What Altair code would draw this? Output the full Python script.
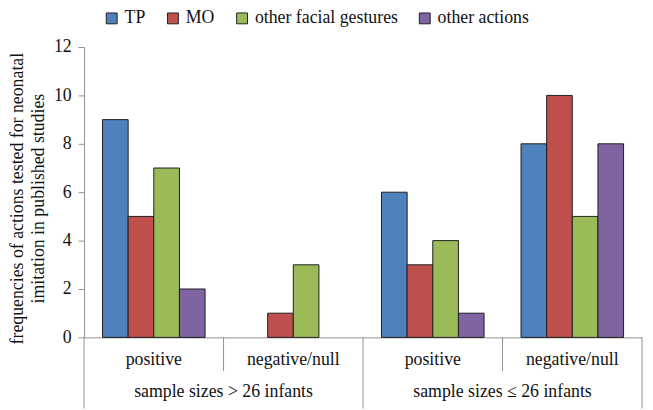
import altair as alt
import pandas as pd

groups = ["sample sizes > 26 infants", "sample sizes \u2264 26 infants"]
outcomes = ["positive", "negative/null"]
series = ["TP", "MO", "other facial gestures", "other actions"]
colors = ["#4F81BD", "#C0504D", "#9BBB59", "#8064A2"]

# values per (group, outcome), in series order
g1_positive = [9, 5, 7, 2]
g1_negative = [0, 1, 3, 0]
g2_positive = [6, 3, 4, 1]
g2_negative = [8, 10, 5, 8]

y_ticks = [0, 2, 4, 6, 8, 10, 12]
y_title = ["frequencies of actions tested for neonatal", "imitation in published studies"]

cells = [
    (groups[0], outcomes[0], g1_positive),
    (groups[0], outcomes[1], g1_negative),
    (groups[1], outcomes[0], g2_positive),
    (groups[1], outcomes[1], g2_negative),
]
conds = [f"{g}|{o}" for g, o, _ in cells]

rows = []
for g, o, vals in cells:
    for s, v in zip(series, vals):
        rows.append({"cond": f"{g}|{o}", "series": s, "value": v})
df = pd.DataFrame(rows)

sub_df = pd.DataFrame([{"cond": f"{g}|{o}", "label": o} for g, o, _ in cells])
grp_df = pd.DataFrame([{"cond": f"{g}|{outcomes[0]}", "label": g} for g in groups])
short_df = pd.DataFrame([{"cond": f"{g}|{outcomes[1]}"} for g in groups])
long_df = pd.DataFrame([{"cond": f"{g}|{outcomes[0]}"} for g in groups])
end_df = pd.DataFrame([{"cond": conds[-1]}])

FONT = "Liberation Serif"
GRAY = "#8f8f8f"

xscale = alt.Scale(domain=conds, paddingInner=0, paddingOuter=0)

bars = alt.Chart(df).transform_filter("datum.value > 0").mark_bar(
    stroke="#1e1e1e", strokeWidth=1
).encode(
    x=alt.X("cond:N", scale=xscale, sort=conds,
            axis=alt.Axis(labels=False, ticks=False, domain=True, domainColor=GRAY,
                          title=None, grid=False)),
    xOffset=alt.XOffset("series:N", sort=series,
                        scale=alt.Scale(domain=series, paddingInner=0, paddingOuter=0.72)),
    y=alt.Y("value:Q", scale=alt.Scale(domain=[0, 12], nice=False),
            axis=alt.Axis(values=y_ticks, grid=False, tickSize=6, tickColor=GRAY,
                          domainColor=GRAY, labelFont=FONT, labelFontSize=18,
                          labelColor="#111", labelPadding=7,
                          title=y_title, titleFont=FONT, titleFontSize=18,
                          titleFontWeight="normal", titleColor="#111",
                          titleAngle=-90, titleAlign="center", titleBaseline="middle",
                          titleLineHeight=21, titleX=-67, titleY=153)),
    color=alt.Color("series:N", sort=series,
                    scale=alt.Scale(domain=series, range=colors),
                    legend=alt.Legend(title=None, orient="none", direction="horizontal",
                                      legendX=19, legendY=-38, symbolType="square",
                                      symbolSize=121, symbolStrokeColor="#222",
                                      symbolStrokeWidth=1, labelFont=FONT,
                                      labelFontSize=18, labelColor="#111",
                                      columnPadding=18, labelOffset=4)),
)

sub_text = alt.Chart(sub_df).mark_text(
    font=FONT, fontSize=18, color="#111", baseline="middle"
).encode(
    x=alt.X("cond:N", scale=xscale, sort=conds),
    y=alt.value(317),
    text="label:N",
)

grp_text = alt.Chart(grp_df).mark_text(
    font=FONT, fontSize=18, color="#111", baseline="middle"
).encode(
    x=alt.X("cond:N", scale=xscale, sort=conds, bandPosition=1),
    y=alt.value(349),
    text="label:N",
)

short_rules = alt.Chart(short_df).mark_rule(color=GRAY, strokeWidth=1).encode(
    x=alt.X("cond:N", scale=xscale, sort=conds, bandPosition=0),
    y=alt.value(294), y2=alt.value(328),
)

long_rules = alt.Chart(long_df).mark_rule(color=GRAY, strokeWidth=1).encode(
    x=alt.X("cond:N", scale=xscale, sort=conds, bandPosition=0),
    y=alt.value(294), y2=alt.value(366),
)

end_rule = alt.Chart(end_df).mark_rule(color=GRAY, strokeWidth=1).encode(
    x=alt.X("cond:N", scale=xscale, sort=conds, bandPosition=1),
    y=alt.value(294), y2=alt.value(366),
)

chart = alt.layer(bars, short_rules, long_rules, end_rule, sub_text, grp_text).properties(
    width=565, height=294,
    autosize=alt.AutoSizeParams(type="none"),
    padding={"left": 77, "top": 37, "right": 3, "bottom": 71},
).configure(background="white", font=FONT).configure_view(stroke=None)

chart.save("out.html", embed_options={"renderer": "svg", "actions": False})
